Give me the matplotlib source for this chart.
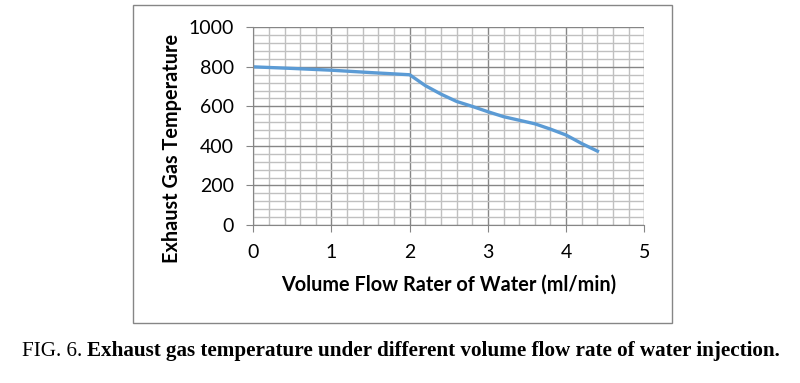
import matplotlib.pyplot as plt
from matplotlib.patches import Rectangle
from matplotlib.ticker import MultipleLocator

# volume flow rate of water (ml/min) vs exhaust gas temperature
flow = [0, 0.5, 1.0, 1.5, 2.0, 2.2, 2.4, 2.6, 2.8, 3.0, 3.2, 3.4, 3.6, 3.8, 4.0, 4.2, 4.42]
temp = [800, 792, 783, 771, 760, 705, 662, 625, 600, 573, 548, 530, 512, 485, 455, 412, 370]

x_ticks = [0, 1, 2, 3, 4, 5]
y_ticks = [0, 200, 400, 600, 800, 1000]

font = ['Lato', 'DejaVu Sans']

fig = plt.figure(figsize=(8, 3.83), dpi=100)
ax = fig.add_axes([0.3166, 0.4125, 0.8054 - 0.3166, 0.9287 - 0.4125])

ax.plot(flow, temp, color='#5B9BD5', linewidth=2.4, solid_capstyle='butt')

ax.set_xlim(0, 5)
ax.set_ylim(0, 1000)
ax.set_xticks(x_ticks)
ax.set_yticks(y_ticks)
ax.xaxis.set_minor_locator(MultipleLocator(0.2))
ax.yaxis.set_minor_locator(MultipleLocator(40))
ax.grid(which='major', color='#868686', linewidth=1.0)
ax.grid(which='minor', color='#C0C0C0', linewidth=1.0)
ax.set_axisbelow(True)
for s in ['top', 'right']:
    ax.spines[s].set_visible(False)
for s in ['left', 'bottom']:
    ax.spines[s].set_color('#868686')
ax.tick_params(which='major', length=5, color='#868686', labelsize=14, pad=9)
ax.tick_params(which='minor', length=0)
for lab in ax.get_xticklabels() + ax.get_yticklabels():
    lab.set_family(font)

fig.text(0.2146, 0.612, 'Exhaust Gas Temperature', rotation=90, ha='center', va='center',
         fontsize=14.3, fontweight='bold', family=font)
fig.text(0.561, 1 - 285 / 383, 'Volume Flow Rater of Water (ml/min)', ha='center', va='center',
         fontsize=14.3, fontweight='bold', family=font)

# outer chart border
fig.patches.append(Rectangle((0.1659, 0.1559), 0.8396 - 0.1659, 0.9877 - 0.1559,
                             transform=fig.transFigure, fill=False,
                             edgecolor='#868686', linewidth=1.0))

# caption
serif = ['Liberation Serif', 'DejaVu Serif']
t1 = fig.text(0.027, 1 - 351 / 383, 'FIG. 6. ', ha='left', va='center', fontsize=15.25, family=serif)
fig.canvas.draw()
bb = t1.get_window_extent()
x2 = bb.x1 / fig.bbox.width
fig.text(x2, 1 - 351 / 383, 'Exhaust gas temperature under different volume flow rate of water injection.',
         ha='left', va='center', fontsize=15.25, fontweight='bold', family=serif)

fig.savefig('out.png', dpi=100)
